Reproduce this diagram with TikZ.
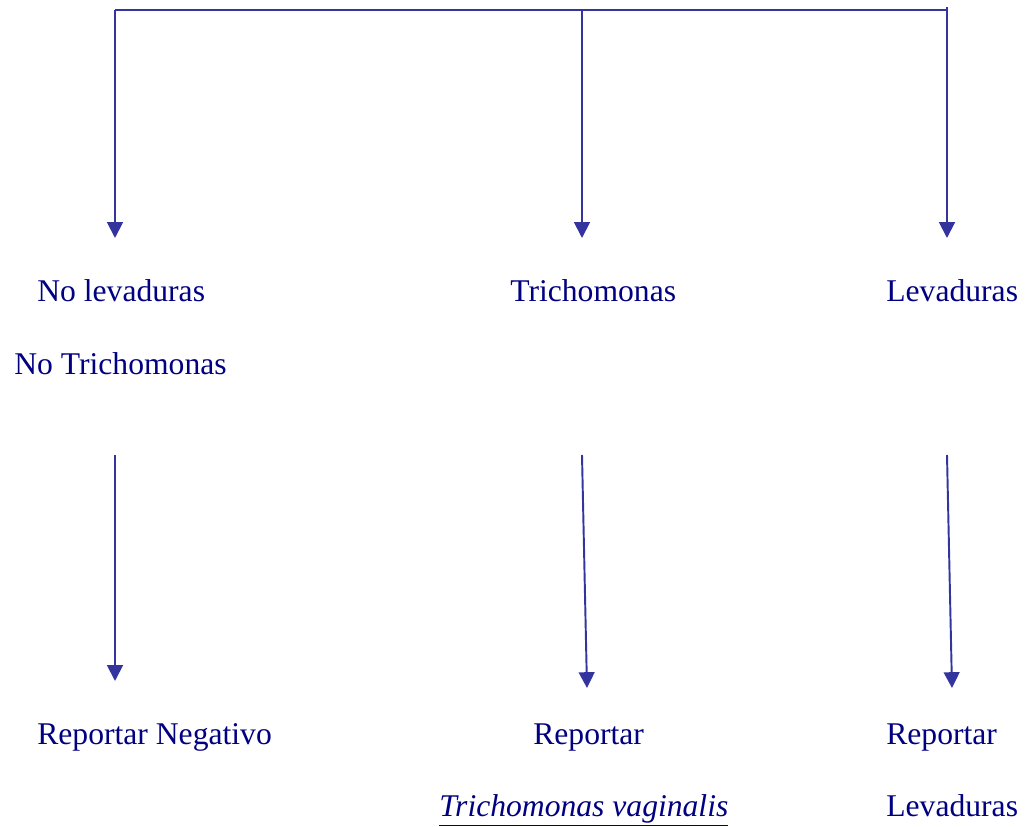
\documentclass[tikz,border=0pt]{standalone}
\usepackage{fontspec}
\setmainfont{Liberation Serif}
\usetikzlibrary{arrows.meta}
\definecolor{linecol}{RGB}{52,52,158}
\definecolor{textcol}{RGB}{0,0,128}
\begin{document}
\begin{tikzpicture}[x=0.02cm,y=-0.02cm,
	label/.style={anchor=base west, inner sep=0pt, text=textcol, font=\fontsize{18}{20}\selectfont},
	flow/.style={draw=linecol, line width=1.1pt, -{Triangle[width=9pt,length=9pt]}}]
	\useasboundingbox (0,0) rectangle (1028,827);
	
	% Branch points
	\coordinate (top left) at (115,10);
	\coordinate (top mid) at (582,10);
	\coordinate (top right) at (947,10);
	\coordinate (top right end) at (947,7);
	
	\draw[linecol, line width=1.1pt] (top left) -- (top right);
	\draw[flow] (top left) -- (115,238);
	\draw[flow] (top mid) -- (582,238);
	\draw[flow] (top right end) -- (947,238);
	
	% Results
	\node[label] (nolev) at (37,302) {No levaduras};
	\node[label] (notri) at (14,375) {No Trichomonas};
	\node[label] (tri) at (510,302) {Trichomonas};
	\node[label] (lev) at (886,302) {Levaduras};
	
	% Second arrows
	\coordinate (neg start) at (115,455);
	\coordinate (tri start) at (582,455);
	\coordinate (lev start) at (947,455);
	\draw[flow] (neg start) -- (115,681);
	\draw[flow] (tri start) -- (587,688);
	\draw[flow] (lev start) -- (952,688);
	
	% Reports
	\node[label] (repneg) at (37,744) {Reportar Negativo};
	\node[label] (reptri) at (533,744) {Reportar};
	\node[label] (reptriname) at (439,816) {\underline{\itshape Trichomonas vaginalis}};
	\node[label] (replev) at (886,744) {Reportar};
	\node[label] (replevname) at (886,816) {Levaduras};
\end{tikzpicture}
\end{document}
